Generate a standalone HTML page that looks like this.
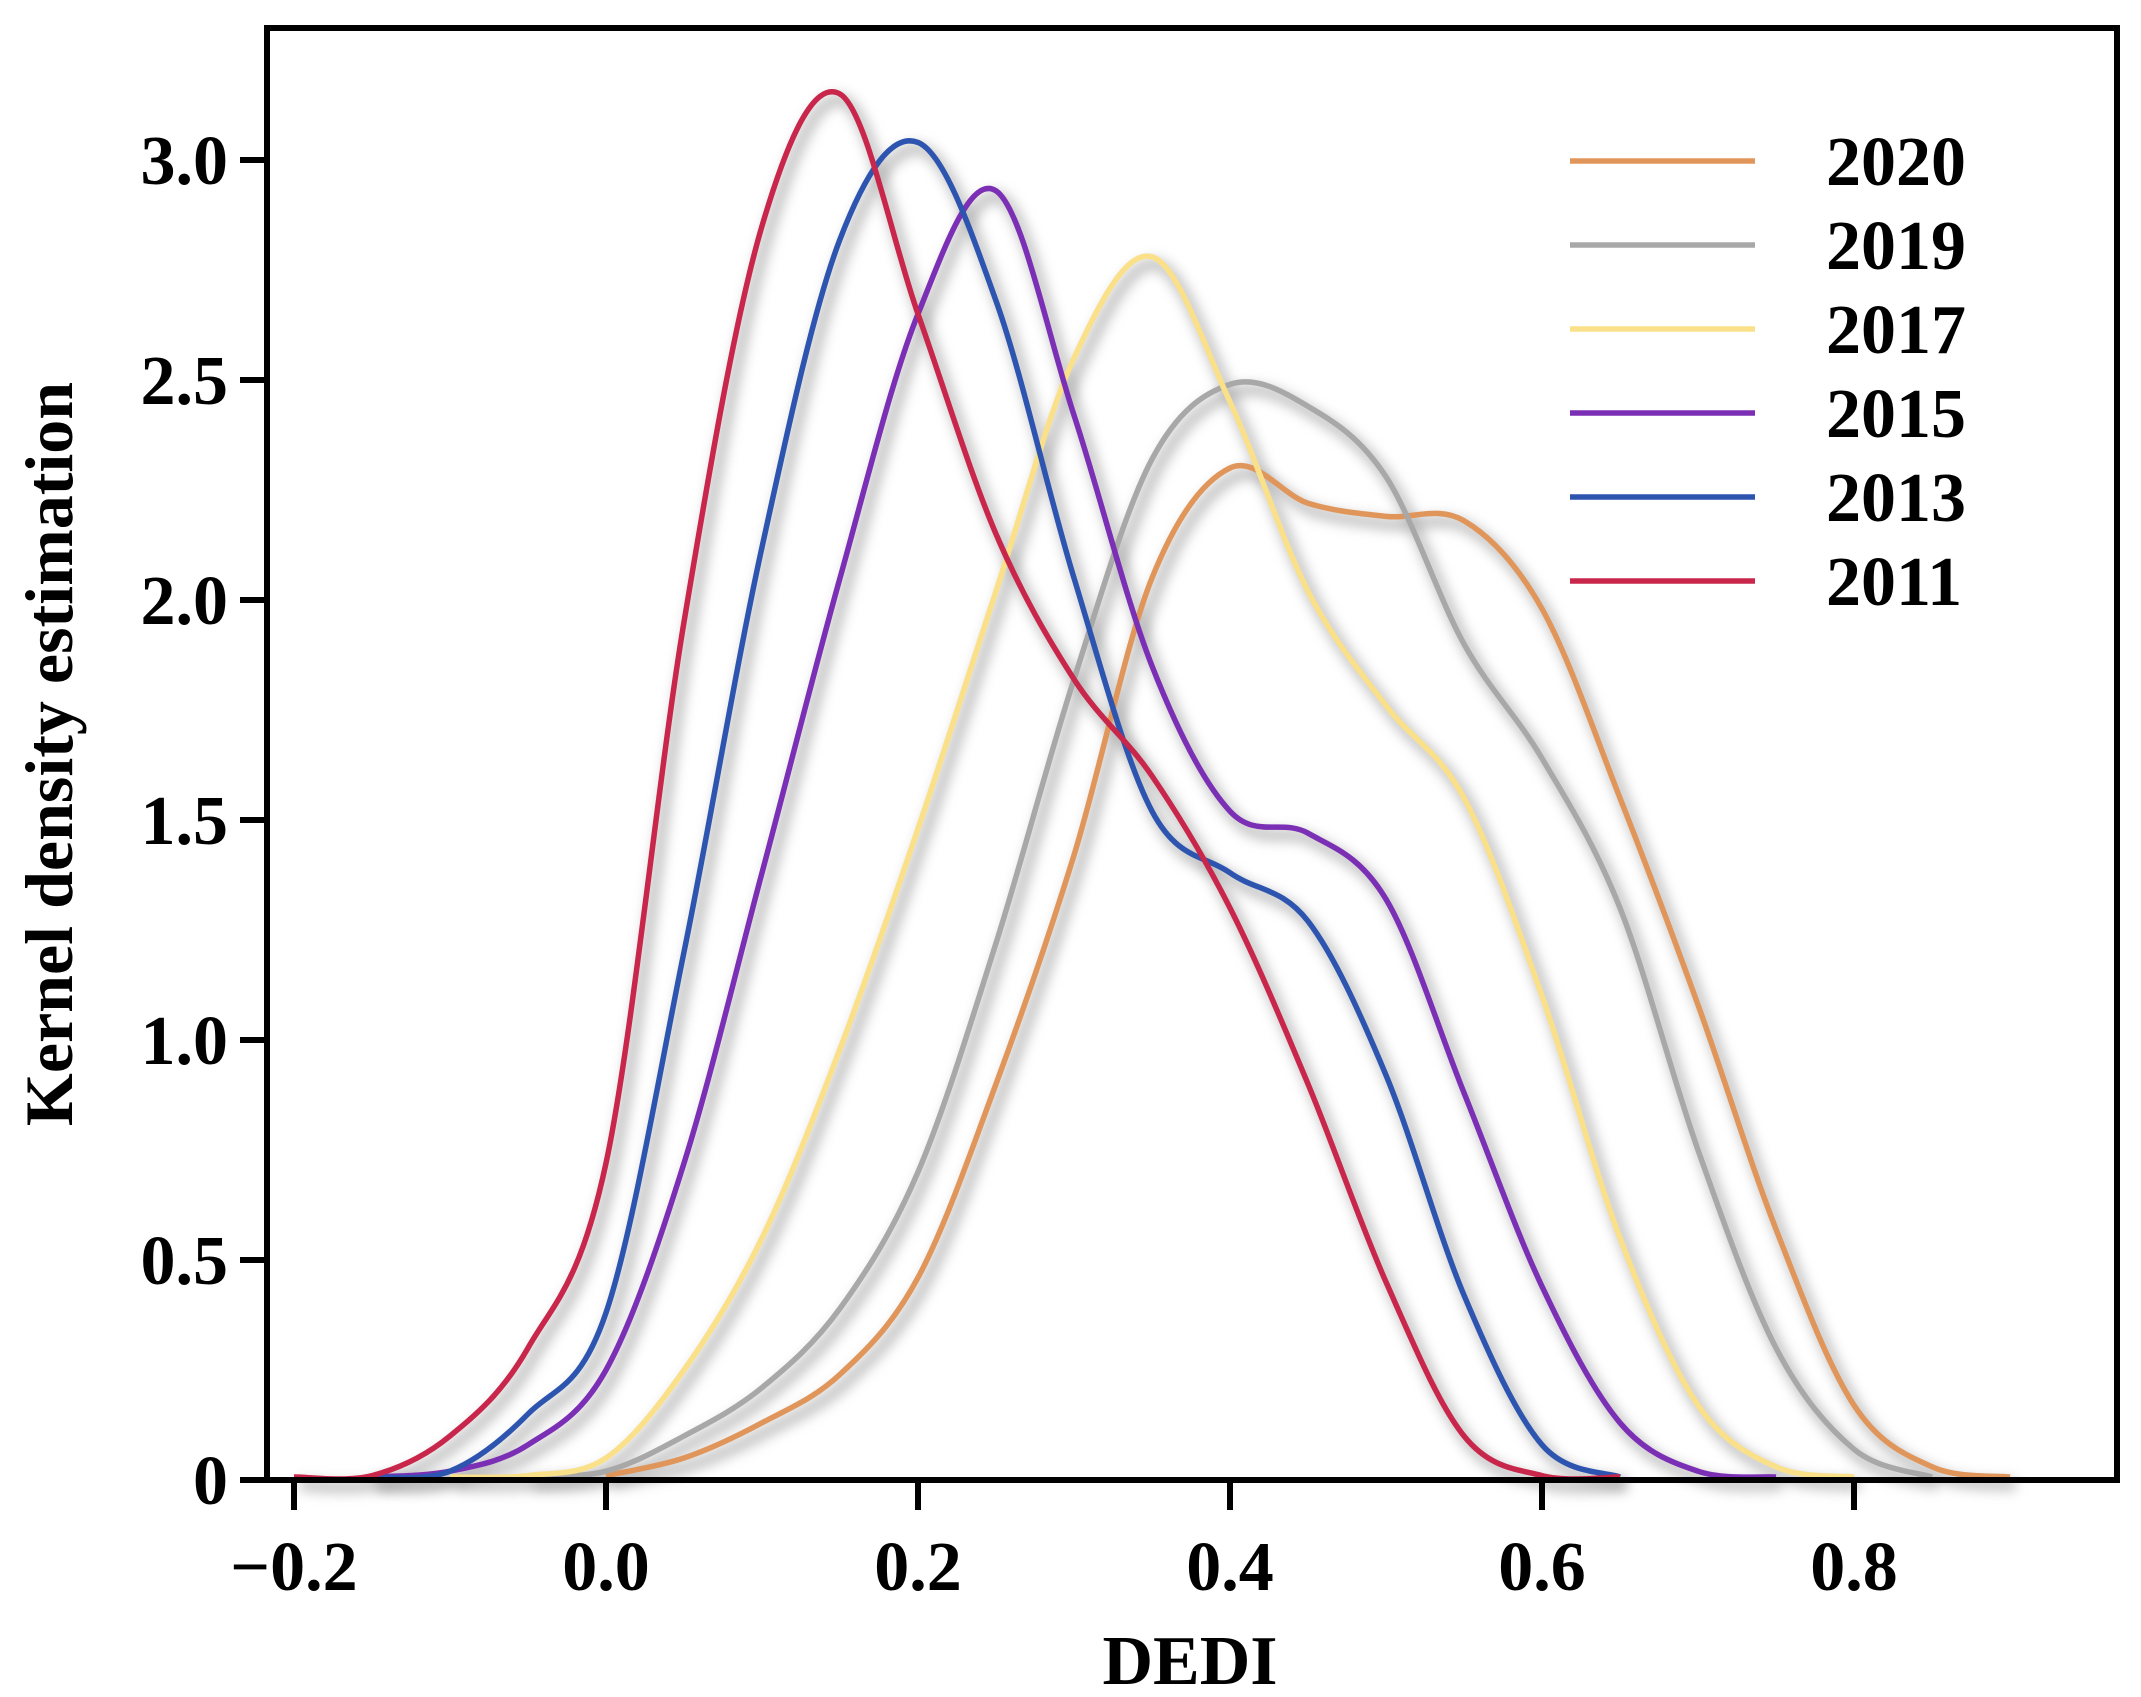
<!DOCTYPE html>
<html><head><meta charset="utf-8"><style>
html,body{margin:0;padding:0;background:#fff}
svg{display:block}
text{font-family:"Liberation Serif",serif;font-weight:bold;fill:#000}
</style></head><body>
<svg id="chart" width="2141" height="1697" viewBox="0 0 2141 1697">
<defs><filter id="sh" x="-10%" y="-10%" width="120%" height="120%"><feGaussianBlur stdDeviation="6"/></filter></defs>
<g id="shadows"></g>
<g id="curves"></g>
<rect x="267" y="28" width="1850" height="1452" fill="none" stroke="#000" stroke-width="6"/>
<g id="yticks"></g>
<g id="xticks"></g>
<text x="1190" y="1684" font-size="70" text-anchor="middle">DEDI</text>
<text transform="translate(72,754) rotate(-90)" font-size="68" text-anchor="middle">Kernel density estimation</text>
<g id="legend"></g>
</svg>
<script>
const years=["2020","2019","2017","2015","2013","2011"];
const colors=["#e0965a","#a8a8a8","#fbe08a","#7b2fb5","#2d55b0","#c8264a"];
const xStart=[0.00,-0.05,-0.10,-0.15,-0.15,-0.20];
const xStep=0.05;
const d2020=[0.01,0.05,0.13,0.24,0.46,0.9,1.42,2.05,2.3,2.22,2.19,2.18,1.98,1.55,1.08,0.57,0.17,0.03,0];
const d2019=[0,0.02,0.1,0.21,0.39,0.7,1.22,1.82,2.32,2.49,2.44,2.28,1.9,1.64,1.3,0.75,0.3,0.07,0];
const d2017=[0,0.01,0.05,0.25,0.55,0.98,1.48,2.02,2.55,2.78,2.45,2.02,1.76,1.55,1.1,0.55,0.17,0.03,0];
const d2015=[0,0.02,0.08,0.25,0.72,1.38,2.05,2.65,2.93,2.42,1.85,1.52,1.47,1.32,0.88,0.44,0.13,0.02,0];
const d2013=[0,0.02,0.15,0.38,1.2,2.12,2.82,3.04,2.68,2.05,1.52,1.38,1.27,0.92,0.42,0.08,0];
const d2011=[0,0.01,0.1,0.3,0.72,1.95,2.85,3.15,2.65,2.15,1.82,1.6,1.3,0.9,0.45,0.1,0.01,0];
const series=[d2020,d2019,d2017,d2015,d2013,d2011];
const xTicks=[-0.2,0.0,0.2,0.4,0.6,0.8];
const xTickLabels=["\u22120.2","0.0","0.2","0.4","0.6","0.8"];
const yTicks=[0,0.5,1.0,1.5,2.0,2.5,3.0];
const yTickLabels=["0","0.5","1.0","1.5","2.0","2.5","3.0"];

const NS="http://www.w3.org/2000/svg";
function X(v){return 606+v*1560;}
function Y(v){return 1480-v*440;}
function mk(tag,attrs,parent){const e=document.createElementNS(NS,tag);for(const k in attrs)e.setAttribute(k,attrs[k]);parent.appendChild(e);return e;}
function pathFor(pts){
  let d="M"+pts[0][0].toFixed(1)+","+pts[0][1].toFixed(1);
  for(let i=0;i<pts.length-1;i++){
    const p0=pts[Math.max(0,i-1)],p1=pts[i],p2=pts[i+1],p3=pts[Math.min(pts.length-1,i+2)];
    const c1=[p1[0]+(p2[0]-p0[0])/6,p1[1]+(p2[1]-p0[1])/6];
    const c2=[p2[0]-(p3[0]-p1[0])/6,p2[1]-(p3[1]-p1[1])/6];
    d+=" C"+c1[0].toFixed(1)+","+c1[1].toFixed(1)+" "+c2[0].toFixed(1)+","+c2[1].toFixed(1)+" "+p2[0].toFixed(1)+","+p2[1].toFixed(1);
  }
  return d;
}
const shG=document.getElementById("shadows"),cG=document.getElementById("curves");
series.forEach((s,i)=>{
  const pts=s.map((v,j)=>[X(xStart[i]+j*xStep),Math.min(Y(v),1477)]);
  const d=pathFor(pts);
  const sh=mk("path",{d:d,fill:"none",stroke:"#aaa","stroke-width":"12",filter:"url(#sh)",transform:"translate(6,8)",opacity:"0.7"},shG);
  
  
  const p=mk("path",{d:d,fill:"none",stroke:colors[i],"stroke-width":"5.5","stroke-linejoin":"round"},cG);
  
  
});
const yG=document.getElementById("yticks");
yTicks.forEach((v,i)=>{
  const l=mk("line",{x1:240,x2:267,y1:Y(v),y2:Y(v),stroke:"#000","stroke-width":"6"},yG);
  
  
  const t=mk("text",{x:228,y:Y(v)+24,"font-size":"70","text-anchor":"end"},yG);
  t.textContent=yTickLabels[i];
  
  
});
const xG=document.getElementById("xticks");
xTicks.forEach((v,i)=>{
  const l=mk("line",{x1:X(v),x2:X(v),y1:1480,y2:1510,stroke:"#000","stroke-width":"6"},xG);
  
  
  const t=mk("text",{x:X(v),y:1590,"font-size":"70","text-anchor":"middle"},xG);
  t.textContent=xTickLabels[i];
  
  
});
const lg=document.getElementById("legend");
years.forEach((yr,i)=>{
  const y=161+i*84;
  const s=mk("line",{x1:1576,x2:1762,y1:y+8,y2:y+8,stroke:"#bbb","stroke-width":"12",filter:"url(#sh)",opacity:"0.7"},lg);
  
  
  const l=mk("line",{x1:1570,x2:1755,y1:y,y2:y,stroke:colors[i],"stroke-width":"5.5"},lg);
  
  
  const t=mk("text",{x:1826,y:y+24,"font-size":"70"},lg);
  t.textContent=yr;
  
  
});
</script>
</body></html>
